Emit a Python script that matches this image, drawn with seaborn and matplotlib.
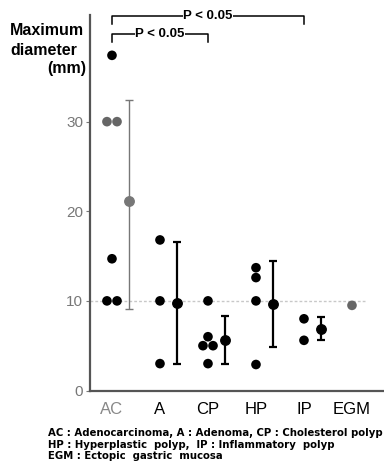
import matplotlib
matplotlib.use("Agg")
import matplotlib.pyplot as plt
import seaborn as sns
import pandas as pd

# lesion groups and measured maximum diameters (mm)
groups = ["AC", "A", "CP", "HP", "IP", "EGM"]
ac_sizes = [37.4, 30, 30, 14.7, 10, 10]
a_sizes = [16.8, 10, 3.0]
cp_sizes = [10, 6.0, 5.0, 5.0, 3.0]
hp_sizes = [13.7, 12.6, 10, 2.9]
ip_sizes = [8.0, 5.6]
egm_sizes = [9.5]
# which dots came out faint in the scan
ac_tone = ["dark", "faint", "faint", "dark", "dark", "dark"]
egm_tone = ["faint"]

# mean and range bars (no bar for EGM, single case)
bar_groups = ["AC", "A", "CP", "HP", "IP"]
bar_mean = [21.2, 9.8, 5.6, 9.7, 6.9]
bar_low = [9.1, 3.0, 3.0, 4.8, 5.6]
bar_high = [32.4, 16.6, 8.3, 14.5, 8.2]

footnote = ["AC : Adenocarcinoma, A : Adenoma, CP : Cholesterol polyp",
            "HP : Hyperplastic  polyp,  IP : Inflammatory  polyp",
            "EGM : Ectopic  gastric  mucosa"]

# build long table
all_sizes = [ac_sizes, a_sizes, cp_sizes, hp_sizes, ip_sizes, egm_sizes]
rows = []
for gi, (g, vals) in enumerate(zip(groups, all_sizes)):
    if g == "AC":
        tones = ac_tone
    elif g == "EGM":
        tones = egm_tone
    else:
        tones = ["dark"] * len(vals)
    # spread equal values side by side
    for v, t in zip(vals, tones):
        n = vals.count(v)
        k = sum(1 for r in rows if r["group"] == g and r["size"] == v)
        off = (k - (n - 1) / 2) * 0.21
        rows.append({"group": g, "x": gi + off, "size": v, "tone": t})
df = pd.DataFrame(rows)

plt.rcParams["font.family"] = ["Liberation Sans", "DejaVu Sans"]

fig = plt.figure(figsize=(3.84, 4.63), dpi=100)
ax = fig.add_axes([90 / 384, 1 - 390.5 / 463, 1 - 90 / 384, (390.5 - 15) / 463])

# reference line at 10 mm
ax.axhline(10, xmin=0, xmax=(5.3 + 0.458) / (5.667 + 0.458), color="#c8c8c8",
           lw=1, ls=(0, (2, 1.5)), zorder=0)

sns.scatterplot(data=df, x="x", y="size", hue="tone",
                palette={"dark": "black", "faint": "#666666"},
                s=48, edgecolor="none", legend=False, ax=ax, zorder=3)

for g, m, lo, hi in zip(bar_groups, bar_mean, bar_low, bar_high):
    xi = groups.index(g) + 0.35
    c = "#777777" if g == "AC" else "black"
    lw = 1.0 if g == "AC" else 1.6
    ax.errorbar([xi], [m], yerr=[[m - lo], [hi - m]], fmt="o", color=c,
                ms=6.8, lw=lw, capsize=3, capthick=lw, zorder=3)

ax.set_xlim(-0.458, 5.667)
ax.set_ylim(0, 41.9)
ax.set_xticks(range(len(groups)))
ax.set_xticklabels(groups, fontsize=12)
ax.get_xticklabels()[0].set_color("#888888")
ax.tick_params(axis="x", length=0, pad=8)
ax.set_yticks([0, 10, 20, 30])
ax.tick_params(axis="y", length=3, color="#777777", labelcolor="#777777",
               labelsize=11, pad=2)
ax.set_xlabel("")
ax.set_ylabel("")
for s in ["top", "right"]:
    ax.spines[s].set_visible(False)
for s in ["left", "bottom"]:
    ax.spines[s].set_color("#555555")
    ax.spines[s].set_linewidth(1.6)

# significance brackets
def bracket(x0, x1, y, drop):
    ax.plot([x0, x0, x1, x1], [y - drop, y, y, y - drop], color="black",
            lw=1.1, clip_on=False, zorder=4)
    ax.text((x0 + x1) / 2, y, "P < 0.05", ha="center", va="center",
            fontsize=9.5, fontweight="bold", clip_on=False, zorder=5,
            bbox=dict(facecolor="white", edgecolor="none", pad=0.5))

bracket(0, 4, 41.8, 0.9)
bracket(0, 2, 39.8, 0.9)

# y label
fig.text(10 / 384, 1 - 35 / 463, "Maximum", fontsize=11.5, fontweight="bold",
         ha="left", va="baseline")
fig.text(10 / 384, 1 - 55 / 463, "diameter", fontsize=11.5, fontweight="bold",
         ha="left", va="baseline")
fig.text(86 / 384, 1 - 73 / 463, "(mm)", fontsize=11.5, fontweight="bold",
         ha="right", va="baseline")

for i, line in enumerate(footnote):
    fig.text(48 / 384, 1 - (436 + i * 11.5) / 463, line, fontsize=7.3,
             family="DejaVu Sans", fontweight="bold", ha="left", va="baseline")

fig.savefig("out.png", dpi=100)
